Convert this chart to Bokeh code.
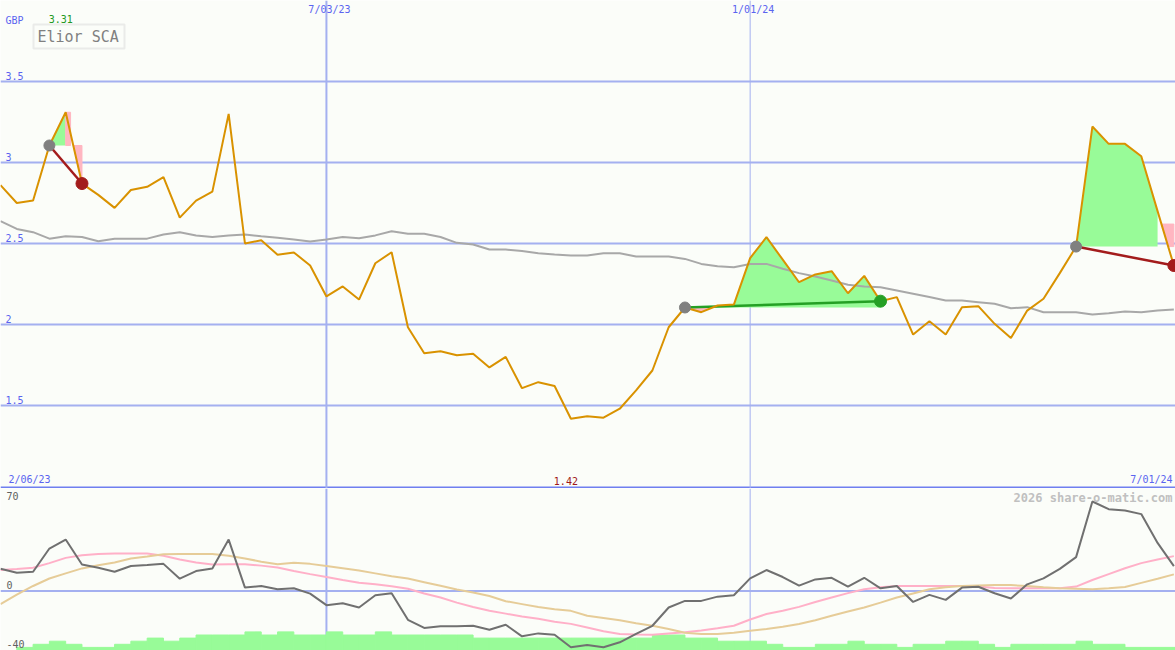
import numpy as np
import pandas as pd
from bokeh.plotting import figure
from bokeh.layouts import column
from bokeh.models import Range1d, Span, Label, BoxAnnotation
from bokeh.embed import file_html
from bokeh.resources import INLINE

# ---------------- data ----------------
start_date = "2023-02-13"          # weekly closes
stock_name = "Elior SCA"
currency = "GBP"

price = [2.86, 2.75, 2.765, 3.105, 3.31, 2.87, 2.80, 2.72, 2.83, 2.85,
         2.91, 2.66, 2.765, 2.82, 3.30, 2.50, 2.52, 2.43, 2.445, 2.364,
         2.173, 2.235, 2.154, 2.378, 2.446, 1.983, 1.823, 1.835, 1.81, 1.82,
         1.735, 1.80, 1.607, 1.644, 1.62, 1.418, 1.434, 1.425, 1.48, 1.593,
         1.716, 1.983, 2.105, 2.076, 2.117, 2.123, 2.41, 2.539, 2.40, 2.261,
         2.309, 2.329, 2.193, 2.30, 2.144, 2.169, 1.938, 2.02, 1.938, 2.107,
         2.113, 2.004, 1.916, 2.086, 2.159, 2.317, 2.481, 3.222, 3.115, 3.115,
         3.039, 2.70, 2.364]

moving_avg = [2.638, 2.59, 2.57, 2.53, 2.545, 2.54, 2.514, 2.53, 2.53, 2.53,
              2.556, 2.57, 2.55, 2.54, 2.55, 2.556, 2.545, 2.535, 2.525, 2.512,
              2.525, 2.54, 2.533, 2.55, 2.576, 2.56, 2.56, 2.54, 2.504, 2.494,
              2.463, 2.463, 2.453, 2.44, 2.432, 2.426, 2.426, 2.44, 2.44, 2.42,
              2.42, 2.42, 2.405, 2.374, 2.36, 2.354, 2.374, 2.374, 2.344, 2.317,
              2.296, 2.272, 2.245, 2.235, 2.23, 2.21, 2.19, 2.17, 2.148, 2.148,
              2.138, 2.128, 2.10, 2.107, 2.076, 2.076, 2.076, 2.062, 2.07, 2.08,
              2.076, 2.086, 2.093]

oscillator = [15.1, 12.4, 13.1, 29, 35.1, 18.1, 15.8, 13.1, 17, 17.7,
              18.5, 8.4, 13.6, 15.4, 35.1, 2.3, 3.4, 1.1, 1.8, -1.8,
              -9.7, -8.4, -11.3, -2.9, -1.6, -19.7, -25.3, -24.2, -24.2, -23.8,
              -26.5, -23.1, -31, -29, -29.9, -38.5, -36.9, -38.5, -35.1, -29.4,
              -23.8, -11.3, -6.8, -6.8, -3.9, -2.9, 8.6, 14.3, 9.5, 3.6,
              7.9, 9.0, 2.9, 9.0, 1.8, 3.4, -7.5, -2.7, -6.1, 2.3,
              2.9, -1.6, -5.2, 4.5, 8.6, 15.1, 23.1, 61.1, 55.9, 55,
              52.5, 32.8, 17]

signal_fast = [14.3, 15, 15.8, 19, 22.6, 24.4, 25.2, 25.6, 25.6, 25.6,
               24, 21.5, 19.5, 18.1, 18.3, 18.3, 17.3, 16, 13.6, 11.5,
               9.5, 7.5, 5.6, 4.5, 3.2, 1.5, -1.7, -4.5, -8, -11,
               -13.5, -15.5, -17.5, -19, -21, -22.5, -25, -27.5, -29.4, -29.7,
               -29.9, -29, -28.3, -27, -25.5, -23.8, -19.5, -15.8, -13.5, -10.9,
               -7.5, -4.5, -1.5, 1.1, 2.5, 3.4, 3.4, 3.4, 3.4, 3.4,
               3, 2, 1.8, 1.8, 1.8, 1.8, 3, 7.5, 11.5, 15.5,
               19, 21.5, 23.8]

signal_slow = [-9, -2.5, 3.4, 8.5, 12, 15.4, 17.5, 19.5, 22.2, 23.5,
               25, 25.3, 25.3, 25.3, 24, 22.2, 20, 18.3, 19.2, 18.5,
               17, 15.5, 14, 12, 10, 8.5, 6, 3.5, 1, -1,
               -3.5, -7, -9, -11, -12.5, -13.6, -17, -18.5, -20, -22,
               -23.8, -26, -28.5, -29.4, -29.4, -28.5, -27.2, -26, -24.5, -22.6,
               -20, -17, -14, -11.3, -8, -4.5, -1.7, 1.1, 2.5, 3.4,
               3.8, 4.1, 4, 3.3, 2.5, 1.8, 1.5, 1.1, 1.8, 2.7,
               5.5, 8.3, 11.3]

volume_level = [0, 1, 2, 3, 2, 1, 1, 2, 3, 4,
                3, 4, 5, 5, 5, 6, 5, 6, 5, 5,
                6, 5, 5, 6, 5, 5, 5, 5, 5, 4,
                4, 4, 4, 4, 4, 4, 4, 4, 4, 4,
                5, 5, 4, 4, 3, 3, 3, 2, 1, 1,
                2, 2, 3, 2, 2, 1, 2, 2, 3, 3,
                2, 1, 2, 2, 2, 2, 3, 2, 2, 1,
                1, 1, 1]

price_ticks = [1.5, 2.0, 2.5, 3.0, 3.5]
price_tick_labels = ["1.5", "2", "2.5", "3", "3.5"]
osc_ticks = [70, 0, -40]
osc_tick_labels = ["70", "0", "-40"]
date_marks = ["2023-07-03", "2024-01-01"]
date_mark_labels = ["7/03/23", "1/01/24"]
first_label = "2/06/23"
last_label = "7/01/24"

# trades: entry index, exit index
trade_entry = [3, 42, 66]
trade_exit = [5, 54, 72]
# pink drawdown zone for losing trades
pink_band_high = [None, None, 2.62]
pink_band_low = [None, None, None]
pink_strip = [0.3, 0.0, 0.0]

# ---------------- styling ----------------
W, H1, H2 = 1175, 488, 162
BG = "#fbfdf9"
GRID = "#a4b0f0"
SEP = "#6f7ff0"
TXT_BLUE = "#5a64f0"
FONT = "DejaVu Sans Mono"
PRICE_C = "#d99200"
MA_C = "#a8a8a8"
GREEN_FILL = "#98fb98"
PINK_FILL = "#ffb6c1"
LOSS_C = "#a31c1c"
WIN_C = "#25a025"
ENTRY_C = "#808080"

n = len(price)
dates = pd.date_range(start_date, periods=n, freq="7D")
x = dates.values.astype("datetime64[ms]").astype(np.int64).astype(float)
week = x[1] - x[0]
x0 = x[0]
x1 = x[0] + 72.1 * week
p = np.array(price)

PX_PER_GBP = 162.0
PX_PER_OSC = 1.4635
P_TOP = 4.0
P_BOT = P_TOP - H1 / PX_PER_GBP
O_TOP = 70.0
O_BOT = O_TOP - H2 / PX_PER_OSC


def fx(xr):
    return x0 + xr / W * (x1 - x0)


def fy1(yr):
    return P_TOP - yr / PX_PER_GBP


def fy2(yr):
    return O_TOP - (yr - H1) / PX_PER_OSC


xr = Range1d(x0, x1)
p1 = figure(width=W, height=H1, x_range=xr, y_range=Range1d(P_BOT, P_TOP),
            output_backend="svg", toolbar_location=None, min_border=0,
            x_axis_type=None, y_axis_type=None,
            background_fill_color=BG, border_fill_color=BG, outline_line_color=None)
p2 = figure(width=W, height=H2, x_range=xr, y_range=Range1d(O_BOT, O_TOP),
            output_backend="svg", toolbar_location=None, min_border=0,
            x_axis_type=None, y_axis_type=None,
            background_fill_color=BG, border_fill_color=BG, outline_line_color=None)
p2.extra_y_ranges = {"vol": Range1d(0, H2 / 3.1)}
for f in (p1, p2):
    f.grid.visible = False

# grid lines
for v in price_ticks:
    p1.add_layout(Span(location=v, dimension="width", line_color=GRID, line_width=2, level="underlay"))
p1.add_layout(Span(location=fy1(487), dimension="width", line_color=SEP, line_width=2, level="underlay"))
p2.add_layout(Span(location=0, dimension="width", line_color=GRID, line_width=2, level="underlay"))
for d, lw in zip(date_marks, [2, 1]):
    loc = pd.Timestamp(d).value / 1e6
    for f in (p1, p2):
        f.add_layout(Span(location=loc, dimension="height", line_color=GRID, line_width=lw, level="underlay"))


def split_fill(xs, ys, level):
    X, Y = [xs[0]], [ys[0]]
    for a in range(len(xs) - 1):
        ya, yb = ys[a] - level, ys[a + 1] - level
        if ya * yb < 0:
            t = ya / (ya - yb)
            X.append(xs[a] + t * (xs[a + 1] - xs[a]))
            Y.append(level)
        X.append(xs[a + 1])
        Y.append(ys[a + 1])
    X, Y = np.array(X), np.array(Y)
    return X, np.maximum(Y, level), np.minimum(Y, level)


def x_at(level, i):
    ya, yb = p[i], p[i + 1]
    return x[i] + (level - ya) / (yb - ya) * (x[i + 1] - x[i])


# trade fills
for k, (ie, ix) in enumerate(zip(trade_entry, trade_exit)):
    lvl = p[ie]
    win = p[ix] >= lvl
    last = ix if win else ix - 1
    X, up, lo = split_fill(x[ie:last + 1], p[ie:last + 1], lvl)
    p1.varea(x=X, y1=lvl, y2=up, color=GREEN_FILL)
    if win:
        p1.varea(x=X, y1=lo, y2=lvl, color=PINK_FILL)
    else:
        i = ix - 1
        hi = pink_band_high[k] if pink_band_high[k] is not None else lvl
        lw_ = pink_band_low[k] if pink_band_low[k] is not None else (p[ix] if pink_band_high[k] is None else lvl)
        lw_ = max(lw_, p[ix])
        xs = [x_at(hi, i), x[ix], x[ix], x_at(lw_, i) if lw_ > p[ix] else x[ix]]
        ys = [hi, hi, lw_, lw_]
        p1.patch(xs, ys, color=PINK_FILL)
        if pink_strip[k] > 0:
            p1.quad(left=x[i], right=x[i] + pink_strip[k] * week, bottom=lvl, top=p[i], color=PINK_FILL)

# moving average and price
p1.line(x, moving_avg, line_color=MA_C, line_width=2)
for ie, ix in zip(trade_entry, trade_exit):
    c = WIN_C if p[ix] >= p[ie] else LOSS_C
    p1.line([x[ie], x[ix]], [p[ie], p[ix]], line_color=c, line_width=2.5)
p1.line(x, price, line_color=PRICE_C, line_width=2)
for ie, ix in zip(trade_entry, trade_exit):
    c = WIN_C if p[ix] >= p[ie] else LOSS_C
    p1.scatter([x[ie]], [p[ie]], size=11, color=ENTRY_C)
    p1.scatter([x[ix]], [p[ix]], size=12, color=c)

# lower panel
vol = np.array(volume_level, dtype=float)
p2.quad(left=x, right=x + week, bottom=0, top=vol, color=GREEN_FILL, y_range_name="vol")
p2.line(x, signal_fast, line_color="#ffb0c8", line_width=2)
p2.line(x, signal_slow, line_color="#e6cc98", line_width=2)
p2.line(x, oscillator, line_color="#707070", line_width=2)


# texts
def lab(f, **kw):
    base = dict(text_font=FONT, text_font_size="10px")
    base.update(kw)
    f.add_layout(Label(**base))


lab(p1, x=fx(5), y=fy1(14), text=currency, text_color=TXT_BLUE, text_baseline="top")
for v, t in zip(price_ticks, price_tick_labels):
    lab(p1, x=fx(5), y=v + 1.5 / PX_PER_GBP, text=t, text_color=TXT_BLUE, text_baseline="bottom")
for d, t in zip(date_marks, date_mark_labels):
    lab(p1, x=pd.Timestamp(d).value / 1e6, x_offset=3, y=fy1(3), text=t, text_color=TXT_BLUE,
        text_align="center", text_baseline="top")
imax = int(np.argmax(p))
imin = int(np.argmin(p))
lab(p1, x=x[imax], x_offset=-5, y=fy1(14), text=f"{p[imax]:.2f}", text_color="#229922",
    text_align="center", text_baseline="top")
lab(p1, x=fx(8), y=fy1(484), text=first_label, text_color=TXT_BLUE, text_baseline="bottom")
lab(p1, x=x[imin], x_offset=-5, y=fy1(484), text=f"{p[imin]:.2f}", text_color="#a01818",
    text_align="center", text_baseline="bottom")
lab(p1, x=fx(1172), y=fy1(484), text=last_label, text_color=TXT_BLUE, text_align="right",
    text_baseline="bottom")

p1.add_layout(BoxAnnotation(left=fx(33), right=fx(124), top=fy1(24), bottom=fy1(48),
                            fill_color=BG, fill_alpha=1, line_color="#c4c4c4", line_width=2))
lab(p1, x=fx(37), y=fy1(36), text=stock_name, text_color="#808080", text_font_size="15px",
    text_baseline="middle")

lab(p2, x=fx(6), y=fy2(491), text=osc_tick_labels[0], text_color="#606060", text_baseline="top")
for v, t in zip(osc_ticks[1:], osc_tick_labels[1:]):
    lab(p2, x=fx(6), y=v + 1.5 / PX_PER_OSC, text=t, text_color="#606060", text_baseline="bottom")
lab(p2, x=fx(1172), y=fy2(490), text="2026 share-o-matic.com", text_color="#c0c0c0",
    text_font_size="12px", text_font_style="bold", text_align="right", text_baseline="top")

layout = column(p1, p2, spacing=0)
open("out.html", "w").write(file_html(layout, INLINE))
